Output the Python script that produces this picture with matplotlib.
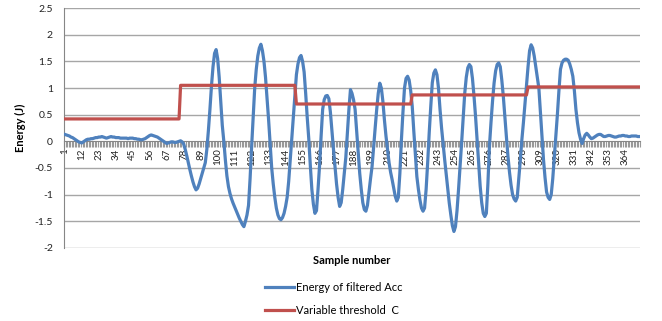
import numpy as np
import matplotlib
matplotlib.use("Agg")
import matplotlib.pyplot as plt
from matplotlib.ticker import FixedLocator, NullFormatter

# ---------------- data ----------------
energy = [
    0.13, 0.12, 0.11, 0.10, 0.08, 0.07, 0.05, 0.03, 0.01, -0.01,
    -0.02, -0.03, -0.01, 0.01, 0.03, 0.04, 0.04, 0.05, 0.05, 0.06,
    0.07, 0.07, 0.08, 0.08, 0.09, 0.08, 0.07, 0.06, 0.07, 0.08,
    0.09, 0.08, 0.08, 0.07, 0.07, 0.07, 0.06, 0.06, 0.06, 0.06,
    0.06, 0.05, 0.06, 0.06, 0.06, 0.05, 0.05, 0.04, 0.04, 0.03,
    0.03, 0.04, 0.05, 0.07, 0.09, 0.11, 0.12, 0.11, 0.10, 0.09,
    0.08, 0.06, 0.04, 0.02, 0.00, -0.02, -0.04, -0.03, -0.02, -0.01,
    -0.01, -0.02, -0.02, -0.01, 0.00, 0.01, -0.01, -0.05, -0.15, -0.27,
    -0.40, -0.53, -0.65, -0.76, -0.85, -0.91, -0.88, -0.80, -0.70, -0.60,
    -0.50, -0.40, -0.15, 0.20, 0.60, 1.04, 1.40, 1.65, 1.72, 1.55,
    1.20, 0.75, 0.30, 0.00, -0.35, -0.65, -0.85, -0.98, -1.08, -1.16,
    -1.23, -1.30, -1.37, -1.44, -1.50, -1.56, -1.60, -1.50, -1.38, -1.20,
    -0.70, -0.10, 0.45, 1.00, 1.35, 1.60, 1.75, 1.82, 1.70, 1.50,
    1.20, 0.80, 0.40, -0.05, -0.50, -0.80, -1.05, -1.25, -1.38, -1.45,
    -1.47, -1.43, -1.35, -1.22, -1.05, -0.75, -0.35, 0.05, 0.45, 0.85,
    1.25, 1.45, 1.57, 1.61, 1.50, 1.30, 0.90, 0.45, 0.05, -0.45,
    -0.90, -1.18, -1.35, -1.30, -0.90, -0.45, 0.10, 0.60, 0.78, 0.85,
    0.86, 0.80, 0.55, 0.20, -0.15, -0.47, -0.80, -1.05, -1.22, -1.15,
    -0.90, -0.60, -0.30, 0.15, 0.60, 0.97, 0.90, 0.78, 0.60, 0.20,
    -0.20, -0.60, -0.90, -1.15, -1.28, -1.31, -1.20, -0.95, -0.70, -0.47,
    -0.10, 0.25, 0.60, 0.90, 1.09, 1.00, 0.75, 0.40, 0.10, -0.15,
    -0.40, -0.58, -0.72, -0.88, -1.03, -1.12, -1.05, -0.60, 0.03, 0.55,
    1.00, 1.18, 1.22, 1.15, 0.95, 0.66, 0.20, -0.22, -0.66, -0.90,
    -1.10, -1.25, -1.31, -1.25, -0.90, -0.40, 0.16, 0.65, 1.10, 1.28,
    1.34, 1.25, 1.00, 0.60, 0.25, -0.05, -0.34, -0.62, -0.90, -1.16,
    -1.38, -1.58, -1.69, -1.60, -1.30, -0.90, -0.47, -0.02, 0.45, 0.90,
    1.20, 1.38, 1.44, 1.40, 1.18, 0.85, 0.47, 0.05, -0.40, -0.84,
    -1.15, -1.35, -1.41, -1.35, -0.80, -0.09, 0.35, 0.75, 1.09, 1.32,
    1.44, 1.47, 1.40, 1.15, 0.84, 0.45, 0.08, -0.28, -0.58, -0.82,
    -1.00, -1.08, -1.12, -1.05, -0.70, -0.35, 0.03, 0.35, 0.70, 1.03,
    1.40, 1.70, 1.81, 1.75, 1.60, 1.40, 1.20, 1.00, 0.55, 0.10,
    -0.34, -0.68, -0.95, -1.05, -1.09, -1.00, -0.70, -0.30, 0.10, 0.50,
    0.95, 1.35, 1.47, 1.52, 1.54, 1.54, 1.52, 1.45, 1.35, 1.22,
    0.95, 0.60, 0.35, 0.16, 0.04, -0.04, 0.05, 0.12, 0.15, 0.12,
    0.08, 0.05, 0.06, 0.08, 0.10, 0.12, 0.13, 0.13, 0.11, 0.09,
    0.09, 0.10, 0.11, 0.11, 0.10, 0.09, 0.08, 0.08, 0.09, 0.10,
    0.10, 0.11, 0.11, 0.10, 0.10, 0.09, 0.09, 0.10, 0.10, 0.10,
    0.10, 0.09, 0.09,
]
threshold_levels = [0.42, 1.05, 0.70, 0.87, 1.02]
threshold_starts = [1, 76, 151, 226, 301]   # first sample of each level
tick_labels = [str(v) for v in range(1, 365, 11)]
y_ticks = [-2, -1.5, -1, -0.5, 0, 0.5, 1, 1.5, 2, 2.5]
y_labels = ["-2", "-1.5", "-1", "-0.5", "0", "0.5", "1", "1.5", "2", "2.5"]

n = len(energy)
samples = np.arange(1, n + 1)
seg_lengths = np.diff(threshold_starts + [n + 1])
threshold = np.repeat(threshold_levels, seg_lengths)

# ---------------- plot ----------------
FONT = "Lato"
plt.rcParams["font.family"] = [FONT, "DejaVu Sans"]

fig = plt.figure(figsize=(6.62, 3.21), dpi=100)
ax = fig.add_axes([64 / 662, 1 - 248 / 321, 576 / 662, 240 / 321])

grid_c = "#a6a6a6"
for yv in y_ticks:
    if yv != 0:
        ax.axhline(yv, color=grid_c, lw=1.0, zorder=1)

ax.plot(samples, energy, color="#4f81bd", lw=2.3, zorder=3,
        solid_joinstyle="round", label="Energy of filtered Acc")
ax.plot(samples, threshold, color="#c0504d", lw=2.3, zorder=4,
        label="Variable threshold  C")

ax.set_xlim(0.5, n + 0.5)
ax.set_ylim(-2, 2.5)

for s in ["top", "right"]:
    ax.spines[s].set_visible(False)
ax.spines["left"].set_color("#868686")
ax.spines["bottom"].set_position(("data", 0))
ax.spines["bottom"].set_color("#868686")
ax.spines["bottom"].set_zorder(2)

ax.set_yticks(y_ticks)
ax.set_yticklabels(y_labels)
ax.tick_params(axis="y", length=0, pad=8, labelsize=7.5, colors="#222222")

ax.set_xticks(list(range(1, 365, 11)))
ax.set_xticklabels(tick_labels, rotation=90)
ax.xaxis.set_minor_locator(FixedLocator(np.arange(0.5, n + 1, 1.0)))
ax.xaxis.set_minor_formatter(NullFormatter())
ax.tick_params(axis="x", which="major", length=0, pad=5, labelsize=7,
               colors="#222222")
ax.tick_params(axis="x", which="minor", length=4, width=0.8, color="#999999")

ax.set_ylabel("Energy (J)", fontsize=8, fontweight="bold", labelpad=6)
fig.text(352 / 662, 1 - 261 / 321, "Sample number", ha="center",
         va="center", fontsize=8, fontweight="bold")

fig.legend(loc="upper left", bbox_to_anchor=(265 / 662, 1 - 282 / 321),
           frameon=False, fontsize=8, handlelength=2.6, handletextpad=0.15,
           labelspacing=1.1, borderpad=0, borderaxespad=0)

fig.savefig("out.png", dpi=100)
